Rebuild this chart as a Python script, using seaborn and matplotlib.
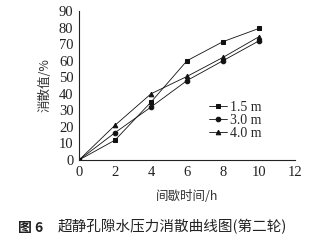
import matplotlib
matplotlib.use("Agg")
import matplotlib.pyplot as plt
import seaborn as sns
import pandas as pd

hours = [0, 2, 4, 6, 8, 10]
d15 = [0, 12, 35, 60, 71.5, 79.5]
d30 = [0, 16.5, 32, 48, 60, 72]
d40 = [0, 21, 40, 50.5, 62, 74.5]
labels = ["1.5 m", "3.0 m", "4.0 m"]
markers = ["s", "o", "^"]
xticks = [0, 2, 4, 6, 8, 10, 12]
yticks = [0, 10, 20, 30, 40, 50, 60, 70, 80, 90]

sns.set_style("white")
plt.rcParams['font.family'] = ['Liberation Serif', 'Noto Sans CJK SC']
cjk = ['Noto Sans CJK SC', 'DejaVu Sans']

rows = []
for lab, vals in zip(labels, [d15, d30, d40]):
    for h, v in zip(hours, vals):
        rows.append({"t": h, "v": v, "depth": lab})
df = pd.DataFrame(rows)

fig = plt.figure(figsize=(3.2, 2.45), dpi=100)
ax = fig.add_axes([0.247, 0.347, 0.675, 0.608])
sns.lineplot(data=df, x="t", y="v", hue="depth", style="depth",
             palette=["#111111"] * 3, markers=markers, dashes=False,
             markersize=3.3, linewidth=0.6, markeredgecolor="#111111",
             ax=ax)
ax.set_xlim(0, 12)
ax.set_ylim(0, 90)
ax.set_xticks(xticks)
ax.set_yticks(yticks)
ax.tick_params(direction="in", length=3, width=0.7, labelsize=10.5, pad=4, colors="#222222")
for s in ["top", "right"]:
    ax.spines[s].set_visible(False)
for s in ["left", "bottom"]:
    ax.spines[s].set_linewidth(0.8)
    ax.spines[s].set_color("#222222")
ax.set_xlabel("间歇时间/h", family=cjk, fontsize=9, labelpad=8, color="#333333")
ax.set_ylabel("消散值/%", family=cjk, fontsize=9, labelpad=5, color="#333333")
leg = ax.legend(loc="lower left", bbox_to_anchor=(0.57, 0.09), frameon=False,
                fontsize=10, handlelength=1.3, handletextpad=0.2,
                labelspacing=0.0, borderpad=0)
fig.text(0.055, 0.055, "图 6", family=cjk, fontsize=10, fontweight="bold", color="#222222")
fig.text(0.18, 0.055, "超静孔隙水压力消散曲线图(第二轮)", family=cjk, fontsize=10.5,
         fontweight="medium", ha="left", color="#222222")
fig.savefig("out.png", dpi=100)
